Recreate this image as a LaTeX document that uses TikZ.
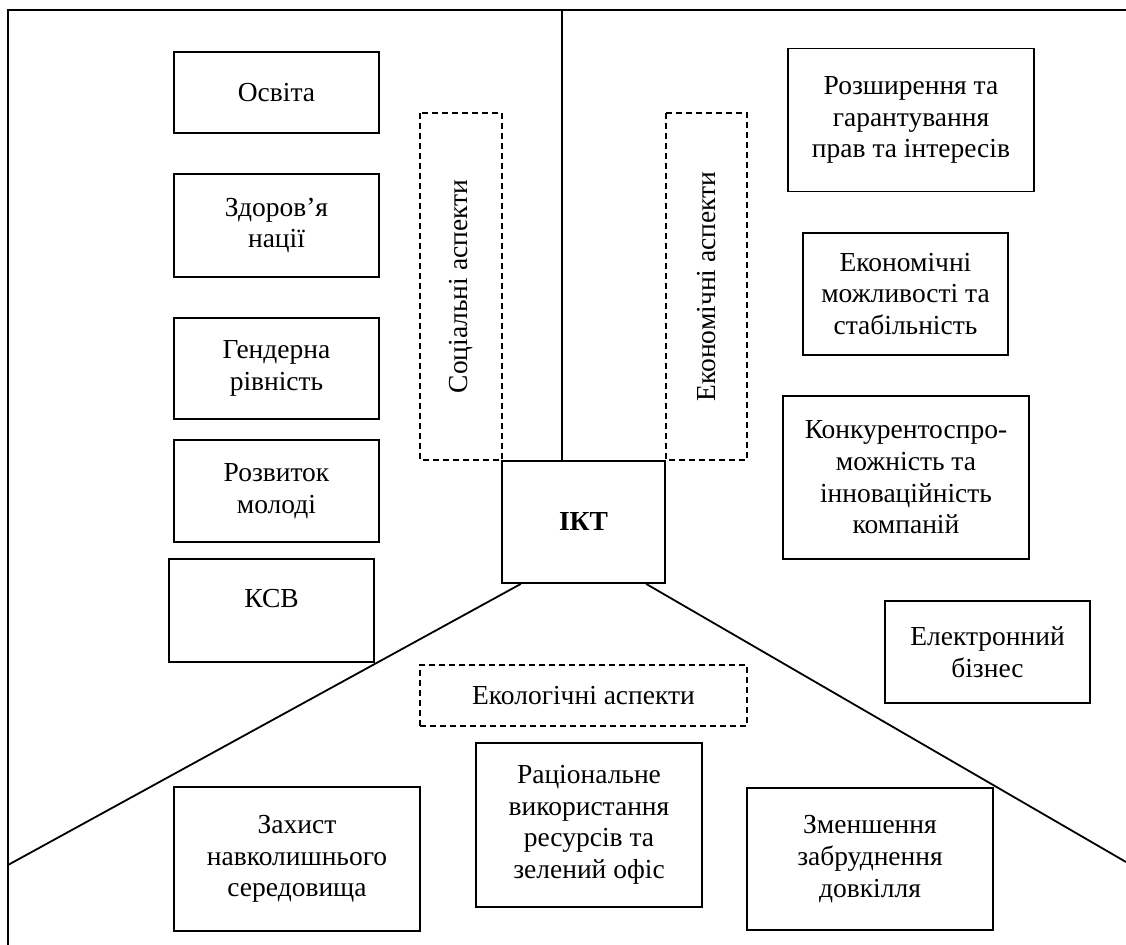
\documentclass[tikz,border=0pt]{standalone}
\usepackage{fontspec}
\setmainfont{Liberation Serif}
\usepackage{tikz}
\usetikzlibrary{positioning,calc}

\begin{document}
\begin{tikzpicture}[x=0.5pt,y=-0.5pt,line width=0.9pt]
\tikzstyle{bx} = [draw=black,rectangle,inner sep=0pt,align=center,font=\fontsize{13.75pt}{15.8pt}\selectfont]
\tikzstyle{dbx} = [bx,dash pattern=on 3pt off 2pt]
    \useasboundingbox (0,0) rectangle (1126,945);

    % left column
    \node[bx,minimum width=102.5pt,minimum height=40.5pt] (osv) at (276.5,92.5) {Освіта};
    \node[bx,minimum width=102.5pt,minimum height=51.5pt] (zdor) at (276.5,225.5) {Здоров’я\\нації};
    \node[bx,minimum width=102.5pt,minimum height=50.5pt] (gend) at (276.5,368.5) {Гендерна\\рівність};
    \node[bx,minimum width=102.5pt,minimum height=51pt] (rozv) at (276.5,491) {Розвиток\\молоді};
    \node[bx,minimum width=102.5pt,minimum height=51.5pt,text depth=12pt] (ksv) at (271.5,610.5) {КСВ};

    % aspects
    \node[dbx,rotate=90,minimum width=173.5pt,minimum height=41pt] (soc) at (461,286.5) {Соціальні аспекти};
    \node[dbx,rotate=90,minimum width=173.5pt,minimum height=40.5pt] (ekon) at (706.5,286.5) {Економічні аспекти};
    \node[dbx,minimum width=163.5pt,minimum height=30.5pt] (ekol) at (583.5,695.5) {Екологічні аспекти};

    \node[bx,minimum width=81.5pt,minimum height=61pt,font=\fontsize{13.75pt}{15.8pt}\selectfont\bfseries] (ikt) at (583.5,522) {ІКТ};

    % right column
    \node[bx,minimum width=123pt,minimum height=71.5pt] (prav) at (911,120) {Розширення та\\гарантування\\прав та інтересів};
    \node[bx,minimum width=102.5pt,minimum height=61pt] (mozh) at (905.5,294) {Економічні\\можливості та\\стабільність};
    \node[bx,minimum width=123pt,minimum height=81.5pt] (konk) at (906,477.5) {Конкурентоспро-\\можність та\\інноваційність\\компаній};
    \node[bx,minimum width=102.5pt,minimum height=51pt] (ebiz) at (987.5,652) {Електронний\\бізнес};

    % bottom row
    \node[bx,minimum width=123pt,minimum height=72pt] (zakh) at (297,859) {Захист\\навколишнього\\середовища};
    \node[bx,minimum width=113pt,minimum height=82pt] (rats) at (589,825) {Раціональне\\використання\\ресурсів та\\зелений офіс};
    \node[bx,minimum width=123pt,minimum height=71pt] (zmen) at (870,859) {Зменшення\\забруднення\\довкілля};

    \coordinate (ftl) at (8,10);
    \coordinate (ftr) at (1126,10);
    \coordinate (fbl) at (8,945);
    \coordinate (vtop) at (562,10);
    \coordinate (lend) at (8,865);
    \coordinate (rend) at (1126,862);
    \coordinate (ikl) at ($(ikt.south west)!0.12!(ikt.south east)$);
    \coordinate (ikr) at ($(ikt.south west)!0.88!(ikt.south east)$);

    \draw (fbl) -- (ftl) -- (ftr);
    \draw (vtop) -- (vtop |- ikt.north);
    \draw (ikl) -- (lend);
    \draw (ikr) -- (rend);
\end{tikzpicture}
\end{document}
